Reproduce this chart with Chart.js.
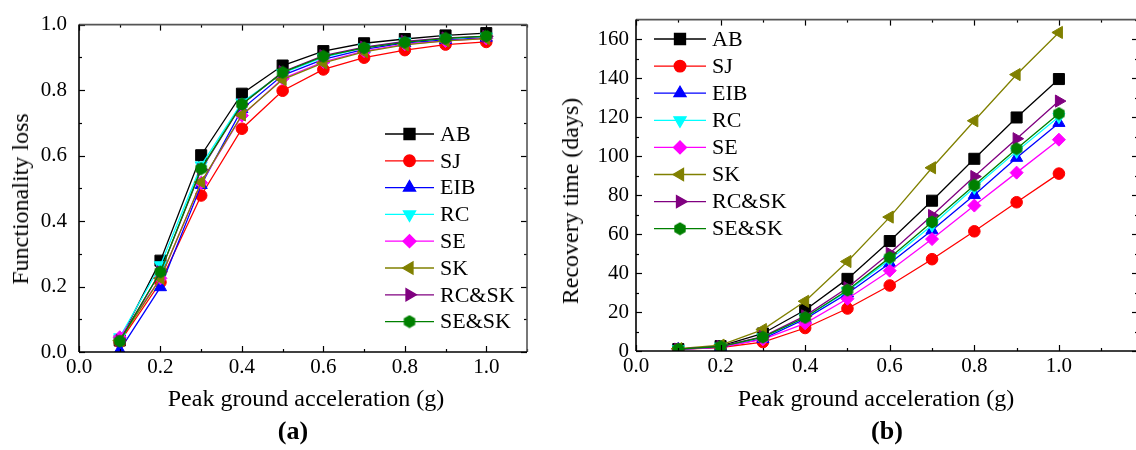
<!DOCTYPE html>
<html>
<head>
<meta charset="utf-8">
<script src="https://cdn.jsdelivr.net/npm/chart.js@4.4.0/dist/chart.umd.min.js"></script>
<style>
	body { margin: 0; background: #fff; overflow: hidden; }
	#wrap { position: relative; width: 1136px; height: 450px; overflow: hidden; font-family: "Liberation Serif", serif; color: #000; }
	canvas { position: absolute; top: 0; }
	.t { position: absolute; white-space: nowrap; line-height: 1; font-size: 24px; transform: translate(-50%, -50%); }
	.v { transform: translate(-50%, -50%) rotate(-90deg); }
	.p { font-weight: bold; font-size: 26px; }
</style>
</head>
<body>
<div id="wrap">
	<canvas id="chartA" width="560" height="450" style="left:0;width:560px;height:450px"></canvas>
	<canvas id="chartB" width="620" height="450" style="left:560px;width:620px;height:450px"></canvas>
	<div class="t v" style="left:20px;top:199px">Functionality loss</div>
	<div class="t" style="left:306px;top:398px">Peak ground acceleration (g)</div>
	<div class="t p" style="left:293px;top:431px">(a)</div>
	<div class="t v" style="left:570px;top:201px">Recovery time (days)</div>
	<div class="t" style="left:876px;top:398px">Peak ground acceleration (g)</div>
	<div class="t p" style="left:887px;top:431px">(b)</div>
</div>
<script>
// data
const pga = [0.1, 0.2, 0.3, 0.4, 0.5, 0.6, 0.7, 0.8, 0.9, 1.0];
const names = ['AB', 'SJ', 'EIB', 'RC', 'SE', 'SK', 'RC&SK', 'SE&SK'];

// functionality loss, panel (a)
const lossAB   = [0.035, 0.279, 0.601, 0.789, 0.875, 0.919, 0.943, 0.956, 0.967, 0.974];
const lossSJ   = [0.030, 0.213, 0.478, 0.682, 0.798, 0.863, 0.899, 0.922, 0.939, 0.947];
const lossEIB  = [0.005, 0.198, 0.510, 0.742, 0.845, 0.894, 0.924, 0.944, 0.953, 0.960];
const lossRC   = [0.045, 0.265, 0.570, 0.762, 0.852, 0.900, 0.930, 0.948, 0.957, 0.963];
const lossSE   = [0.045, 0.225, 0.517, 0.722, 0.835, 0.886, 0.919, 0.940, 0.950, 0.958];
const lossSK   = [0.035, 0.225, 0.519, 0.724, 0.832, 0.883, 0.917, 0.938, 0.950, 0.957];
const lossRCSK = [0.035, 0.245, 0.557, 0.756, 0.856, 0.905, 0.931, 0.949, 0.959, 0.964];
const lossSESK = [0.033, 0.245, 0.560, 0.757, 0.854, 0.903, 0.929, 0.946, 0.958, 0.965];

// recovery time in days, panel (b)
const daysAB   = [1.0, 2.5, 9.0, 21.0, 37.0, 56.4, 77.1, 98.6, 119.8, 139.5];
const daysSJ   = [0.8, 1.8, 4.6, 11.8, 21.8, 33.6, 47.1, 61.4, 76.3, 91.0];
const daysEIB  = [0.9, 2.0, 6.2, 16.5, 29.5, 45.0, 61.9, 80.0, 99.1, 117.0];
const daysRC   = [1.0, 2.2, 7.0, 17.2, 30.7, 46.8, 64.5, 83.9, 102.4, 120.2];
const daysSE   = [0.9, 2.0, 6.0, 14.2, 26.8, 41.2, 57.4, 74.6, 91.5, 108.4];
const daysSK   = [1.2, 3.0, 11.0, 25.5, 45.9, 68.7, 94.0, 118.1, 141.8, 163.4];
const daysRCSK = [1.0, 2.4, 7.4, 18.0, 32.4, 50.1, 69.5, 89.5, 108.9, 128.2];
const daysSESK = [1.0, 2.3, 7.1, 17.2, 31.2, 47.9, 66.2, 85.0, 103.8, 121.8];

Chart.defaults.font.family = '"Liberation Serif", serif';
Chart.defaults.color = '#000';

// origin style hexagon marker
function hexagon(color) {
	let c = document.createElement('canvas');
	c.width = 14; c.height = 14;
	let g = c.getContext('2d');
	g.fillStyle = color;
	g.beginPath();
	for (let i = 0; i < 6; i++) {
		let a = Math.PI / 3 * i;
		g.lineTo(7 + 6.6 * Math.sin(a), 7 - 6.6 * Math.cos(a));
	}
	g.closePath();
	g.fill();
	return c;
}

const looks = [
	{ color: '#000000', style: 'rect', rot: 0, r: 7.8 },
	{ color: '#ff0000', style: 'circle', rot: 0, r: 5.8 },
	{ color: '#0000ff', style: 'triangle', rot: 0, r: 7 },
	{ color: '#00ffff', style: 'triangle', rot: 180, r: 7 },
	{ color: '#ff00ff', style: 'rectRot', rot: 0, r: 6.5 },
	{ color: '#808000', style: 'triangle', rot: -90, r: 7 },
	{ color: '#800080', style: 'triangle', rot: 90, r: 7 },
	{ color: '#008000', style: hexagon('#008000'), rot: 0, r: 7 }
];

function makeSets(list) {
	return list.map((vals, i) => ({
		label: names[i],
		data: vals.map((v, k) => ({ x: pga[k], y: v })),
		borderColor: looks[i].color,
		backgroundColor: looks[i].color,
		pointBackgroundColor: looks[i].color,
		pointBorderColor: looks[i].color,
		borderWidth: 1.3,
		pointBorderWidth: 1,
		pointStyle: looks[i].style,
		pointRotation: looks[i].rot,
		pointRadius: looks[i].r,
		order: 7 - i
	}));
}

// inward ticks on all four sides plus the frame
const frame = {
	id: 'frame',
	afterDraw(chart, args, o) {
		let { ctx, chartArea: a, scales: { x, y } } = chart;
		ctx.save();
		ctx.strokeStyle = '#000';
		ctx.lineWidth = 1.2;
		let seg = (x1, y1, x2, y2) => { ctx.beginPath(); ctx.moveTo(x1, y1); ctx.lineTo(x2, y2); ctx.stroke(); };
		for (let k = 0; k * o.xMinor <= x.max + 1e-9; k++) {
			let px = Math.round(x.getPixelForValue(k * o.xMinor)) + 0.5;
			let len = k % 2 ? 3 : 6;
			seg(px, a.bottom, px, a.bottom - len);
			seg(px, a.top, px, a.top + len);
		}
		for (let k = 0; k * o.yMinor <= y.max + 1e-9; k++) {
			let py = Math.round(y.getPixelForValue(k * o.yMinor)) + 0.5;
			let len = k % 2 ? 3 : 6;
			seg(a.left, py, a.left + len, py);
			seg(a.right, py, a.right - len, py);
		}
		ctx.lineWidth = 1.6;
		ctx.strokeStyle = '#555';
		seg(a.left, a.top, a.right, a.top);
		seg(a.right, a.top, a.right, a.bottom);
		ctx.strokeStyle = '#000';
		seg(a.left, a.top, a.left, a.bottom);
		seg(a.left, a.bottom, a.right, a.bottom);
		ctx.restore();
	}
};

// legend with line and marker, as in the figure
const lineLegend = {
	id: 'lineLegend',
	afterDraw(chart, args, o) {
		let ctx = chart.ctx;
		ctx.save();
		ctx.font = '22px "Liberation Serif"';
		ctx.textBaseline = 'middle';
		chart.data.datasets.forEach((ds, i) => {
			let y = o.y + i * o.step;
			ctx.strokeStyle = ds.borderColor;
			ctx.lineWidth = ds.borderWidth;
			ctx.beginPath(); ctx.moveTo(o.x0, y); ctx.lineTo(o.x1, y); ctx.stroke();
			ctx.fillStyle = ds.pointBackgroundColor;
			Chart.helpers.drawPoint(ctx, {
				pointStyle: ds.pointStyle, rotation: ds.pointRotation, radius: ds.pointRadius, borderWidth: 1
			}, (o.x0 + o.x1) / 2, y);
			ctx.fillStyle = '#000';
			ctx.fillText(ds.label, o.tx, y + 1);
		});
		ctx.restore();
	}
};

function makeChart(id, sets, opt) {
	return new Chart(document.getElementById(id).getContext('2d'), {
		type: 'line',
		data: { datasets: sets },
		options: {
			responsive: false,
			animation: false,
			layout: { padding: opt.pad },
			plugins: {
				legend: { display: false },
				tooltip: { enabled: false },
				frame: opt.frame,
				lineLegend: opt.legend
			},
			scales: {
				x: {
					type: 'linear', min: 0, max: opt.xMax,
					grid: { display: false, drawTicks: false },
					border: { display: false },
					ticks: { stepSize: 0.2, includeBounds: false, padding: 3, maxRotation: 0, autoSkip: false,
						font: { size: 21 }, callback: v => v.toFixed(1) },
					afterFit: s => { s.height = opt.xH; }
				},
				y: {
					min: 0, max: opt.yMax,
					grid: { display: false, drawTicks: false },
					border: { display: false },
					ticks: { stepSize: opt.yStep, includeBounds: false, padding: opt.yPad, autoSkip: false,
						font: { size: 21 }, callback: opt.yFmt },
					afterFit: s => { s.width = opt.yW; }
				}
			}
		},
		plugins: [frame, lineLegend]
	});
}

makeChart('chartA',
	makeSets([lossAB, lossSJ, lossEIB, lossRC, lossSE, lossSK, lossRCSK, lossSESK]), {
	pad: { left: 0, right: 33, top: 17, bottom: 0 },
	xMax: 1.1, xH: 98, yW: 79, yMax: 1, yStep: 0.2, yPad: 12,
	yFmt: v => v.toFixed(1),
	frame: { xMinor: 0.1, yMinor: 0.1 },
	legend: { x0: 385, x1: 434, tx: 440, y: 134, step: 26.8 }
});

makeChart('chartB',
	makeSets([daysAB, daysSJ, daysEIB, daysRC, daysSE, daysSK, daysRCSK, daysSESK]), {
	pad: { left: 0, right: 42, top: 15, bottom: 0 },
	xMax: 1.187, xH: 99, yW: 76, yMax: 170, yStep: 20, yPad: 7,
	yFmt: v => v,
	frame: { xMinor: 0.1, yMinor: 10 },
	legend: { x0: 94, x1: 146, tx: 152, y: 39, step: 27.1 }
});
</script>
</body>
</html>
